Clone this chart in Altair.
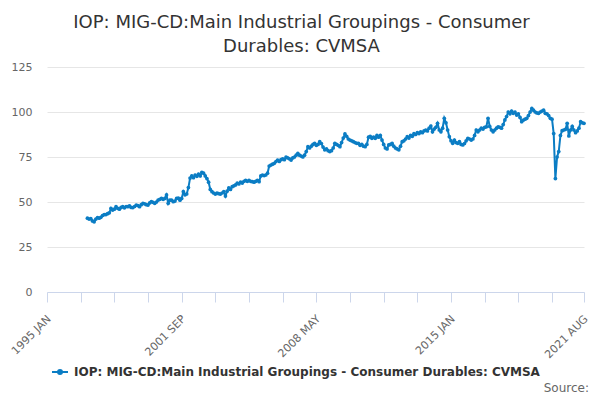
"""
IOP consumer durables index (CVMSA), monthly, drawn with Altair.
"""

import pandas as pd
import altair as alt

SERIES = "IOP: MIG-CD:Main Industrial Groupings - Consumer Durables: CVMSA"
LINE_COLOR = "#0b7dc4"

# monthly values
y1997 = [41, 40.5, 40.8, 39.5, 39, 40.5, 41.3, 41, 41.5, 42.5, 43, 43]
y1998 = [43.5, 44, 46.5, 45.5, 46, 47.4, 46.5, 46, 47, 47.4, 46.8, 47.5]
y1999 = [47.4, 47.8, 47, 46.9, 47.5, 48.3, 48, 47.4, 48.5, 49.3, 49, 48.5]
y2000 = [48.3, 49.5, 50.2, 49.8, 49.3, 50, 51.1, 51.5, 52, 51.5, 52, 53.9]
y2001 = [49.3, 51, 51.1, 50.2, 50.5, 52, 52.2, 51, 52, 55.7, 54, 54.5]
y2002 = [58, 63.3, 64.5, 63.5, 65, 64.3, 65.5, 64.5, 66.5, 66, 64.5, 63]
y2003 = [61, 57, 55.7, 55, 54.4, 55, 54.6, 54.4, 55, 55.7, 53.3, 56]
y2004 = [57.8, 57, 58.5, 59, 59.5, 60.5, 60, 61, 60.5, 61.5, 62, 61.5]
y2005 = [62, 61.5, 61.3, 61, 61.5, 62, 61.3, 64.5, 65, 64.7, 65, 66]
y2006 = [70, 70.5, 71, 71.5, 72.5, 73.3, 72.5, 73.5, 74, 73.5, 75, 74.5]
y2007 = [74, 73.3, 74.5, 75, 76, 77, 76, 75.5, 75, 76, 78, 80.7]
y2008 = [80, 81, 82, 82.6, 81.5, 82, 83.5, 82.5, 80.5, 79, 79.5, 78.5]
y2009 = [78, 78.5, 80, 82.6, 82, 81.5, 80.7, 83, 85.5, 87.8, 86.5, 85]
y2010 = [84.4, 84, 83.5, 83, 82.6, 82.6, 81.5, 82, 81, 80.7, 82, 86]
y2011 = [86.5, 85.4, 86, 85.4, 87, 86, 87, 84.4, 82, 80, 79.5, 81.7]
y2012 = [82, 82.6, 81, 80, 79.5, 79, 81, 83.5, 84, 85, 86.3, 85.5]
y2013 = [87, 86.5, 88, 87.5, 88.5, 88, 89, 88.5, 89.5, 90, 89.5, 91]
y2014 = [92.2, 89, 90.5, 91.5, 93.7, 90, 89, 91, 96.5, 94, 90, 86.3]
y2015 = [84, 82.6, 84.4, 83, 82.6, 83.5, 82, 81.7, 82.5, 84, 85.4, 85]
y2016 = [84.4, 85, 87, 90, 89, 90, 91, 90.5, 91.5, 91.8, 96.5, 92]
y2017 = [90, 89, 90, 91, 91.8, 91.5, 91, 93, 95.6, 97.5, 100, 99]
y2018 = [100.5, 99.3, 100, 98.3, 99, 97, 94.6, 95.5, 96, 96.5, 98, 100]
y2019 = [102, 101, 100, 99.5, 99.3, 100, 100.5, 101, 99.3, 99, 98, 96.5]
y2020 = [96, 88, 63, 75, 78, 87, 89.6, 90, 90.4, 93.7, 86.7, 90]
y2021 = [92, 90, 88.5, 89.5, 91, 94.6, 94, 93.7]

years = [y1997, y1998, y1999, y2000, y2001, y2002, y2003, y2004, y2005,
         y2006, y2007, y2008, y2009, y2010, y2011, y2012, y2013, y2014,
         y2015, y2016, y2017, y2018, y2019, y2020, y2021]

# category axis runs from 1995 JAN; data starts 1997 JAN
axis_start_year = 1995
data_start_year = 1997
tick_labels = ["1995 JAN", "2001 SEP", "2008 MAY", "2015 JAN", "2021 AUG"]
tick_step = 20
y_ticks = [0, 25, 50, 75, 100, 125]

MONTHS = ["JAN", "FEB", "MAR", "APR", "MAY", "JUN",
          "JUL", "AUG", "SEP", "OCT", "NOV", "DEC"]


def month_index(label):
    year, mon = label.split()
    return (int(year) - axis_start_year) * 12 + MONTHS.index(mon)


values = [v for yr in years for v in yr]
offset = (data_start_year - axis_start_year) * 12
df = pd.DataFrame({
    "m": [offset + i for i in range(len(values))],
    "value": values,
    "series": SERIES,
})

last_m = month_index(tick_labels[-1])
tick_values = list(range(0, last_m - tick_step // 2, tick_step)) + [last_m]
label_expr = " : ".join(
    f"datum.value == {month_index(t)} ? '{t}'" for t in tick_labels
) + " : ''"

line = alt.Chart(df).mark_line(
    strokeWidth=2,
    point=alt.OverlayMarkDef(size=14, filled=True),
).encode(
    x=alt.X("m:Q", title=None,
            scale=alt.Scale(domain=[0, last_m], nice=False, zero=False),
            axis=alt.Axis(values=tick_values, labelExpr=label_expr,
                          labelAngle=315, labelAlign="right",
                          labelBaseline="middle", labelOverlap=False,
                          labelPadding=15, labelOffset=2,
                          labelFontSize=11, labelColor="#666666",
                          grid=False, domainColor="#ccd6eb", tickColor="#ccd6eb",
                          tickSize=10, labelFlush=False)),
    y=alt.Y("value:Q", title=None,
            scale=alt.Scale(domain=[0, 125], nice=False),
            axis=alt.Axis(values=y_ticks, domain=False, ticks=False,
                          labelPadding=15, labelFontSize=11, labelColor="#666666",
                          gridColor="#e6e6e6")),
    color=alt.Color("series:N", title=None,
                    scale=alt.Scale(range=[LINE_COLOR]),
                    legend=alt.Legend(
                        orient="none", legendX=4, legendY=296,
                        symbolType="M-1,0L1,0M-0.25,0A0.25,0.25,0,1,1,0.25,0A0.25,0.25,0,1,1,-0.25,0Z",
                        symbolSize=256, symbolStrokeWidth=2,
                        symbolFillColor=LINE_COLOR,
                        labelFont="DejaVu Sans", labelFontSize=12,
                        labelFontWeight="bold", labelColor="#333333",
                        labelOffset=5, padding=0, labelLimit=600)),
)

source = alt.Chart(pd.DataFrame({"t": ["Source:"]})).mark_text(
    align="right", baseline="alphabetic", fontSize=12, color="#666666",
).encode(x=alt.value(542), y=alt.value(325), text="t:N")

chart = alt.layer(line, source).properties(
    width=537,
    height=225,
    autosize=alt.AutoSizeParams(type="none"),
    padding={"left": 39, "top": 59, "right": 8, "bottom": 106},
    title=alt.TitleParams(
        text=["IOP: MIG-CD:Main Industrial Groupings - Consumer",
              "Durables: CVMSA"],
        fontSize=18, fontWeight="normal", color="#333333",
        anchor="middle", dx=-14, offset=5, lineHeight=24,
    ),
).configure(
    font="DejaVu Sans",
).configure_view(
    strokeWidth=0,
)

chart.save("out.html", embed_options={"renderer": "svg", "actions": False})
